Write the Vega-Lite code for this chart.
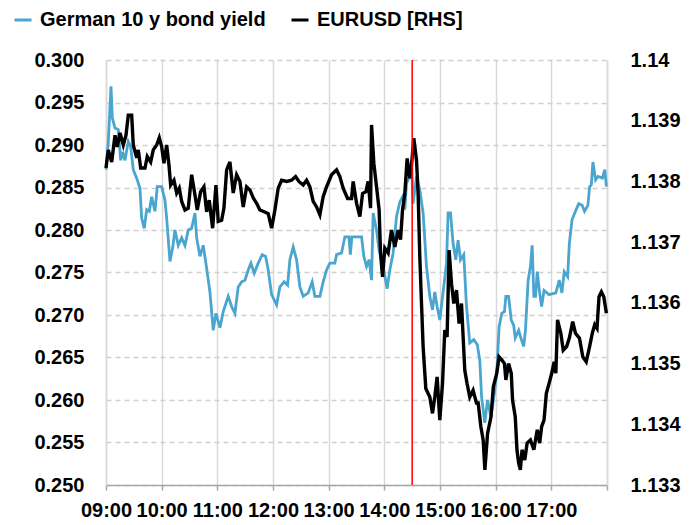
{
  "$schema": "https://vega.github.io/schema/vega-lite/v6.json",
  "width": 501,
  "height": 425,
  "autosize": {"type": "none"},
  "padding": {"left": 106, "top": 60, "right": 87, "bottom": 40},
  "background": "white",
  "config": {
    "view": {"stroke": null},
    "font": "Liberation Sans",
    "axis": {"labelFont": "Liberation Sans", "labelFontSize": 20, "labelFontWeight": "bold", "labelColor": "#000000", "title": null},
    "legend": {"labelFont": "Liberation Sans", "labelFontSize": 20, "labelFontWeight": "bold", "labelColor": "#000000", "labelLimit": 400}
  },
  "datasets": {
    "event": [{"time": "2024-01-01T14:30:00"}],
    "yield": [
      {"time":"2024-01-01T09:00:00","value":0.2871},{"time":"2024-01-01T09:02:29","value":0.2904},{"time":"2024-01-01T09:05:23","value":0.2969},{"time":"2024-01-01T09:06:47","value":0.2932},{"time":"2024-01-01T09:09:42","value":0.2920},{"time":"2024-01-01T09:13:15","value":0.2918},{"time":"2024-01-01T09:15:50","value":0.2882},{"time":"2024-01-01T09:17:59","value":0.2892},{"time":"2024-01-01T09:20:28","value":0.2882},{"time":"2024-01-01T09:24:01","value":0.2904},{"time":"2024-01-01T09:26:36","value":0.2898},{"time":"2024-01-01T09:29:24","value":0.2871},{"time":"2024-01-01T09:33:04","value":0.2861},{"time":"2024-01-01T09:36:37","value":0.2849},{"time":"2024-01-01T09:38:27","value":0.2814},{"time":"2024-01-01T09:41:15","value":0.2802},{"time":"2024-01-01T09:43:51","value":0.2824},{"time":"2024-01-01T09:46:39","value":0.2822},{"time":"2024-01-01T09:49:14","value":0.2839},{"time":"2024-01-01T09:52:47","value":0.2822},{"time":"2024-01-01T09:55:16","value":0.2851},{"time":"2024-01-01T10:00:00","value":0.2851},{"time":"2024-01-01T10:03:33","value":0.2835},{"time":"2024-01-01T10:05:23","value":0.2814},{"time":"2024-01-01T10:08:56","value":0.2763},{"time":"2024-01-01T10:11:51","value":0.2779},{"time":"2024-01-01T10:14:20","value":0.2800},{"time":"2024-01-01T10:17:53","value":0.2782},{"time":"2024-01-01T10:21:33","value":0.2791},{"time":"2024-01-01T10:25:06","value":0.2782},{"time":"2024-01-01T10:28:39","value":0.2800},{"time":"2024-01-01T10:32:19","value":0.2802},{"time":"2024-01-01T10:35:52","value":0.2820},{"time":"2024-01-01T10:37:42","value":0.2791},{"time":"2024-01-01T10:41:15","value":0.2769},{"time":"2024-01-01T10:44:49","value":0.2782},{"time":"2024-01-01T10:48:28","value":0.2755},{"time":"2024-01-01T10:52:02","value":0.2727},{"time":"2024-01-01T10:55:35","value":0.2682},{"time":"2024-01-01T10:58:30","value":0.2702},{"time":"2024-01-01T11:02:48","value":0.2685},{"time":"2024-01-01T11:06:21","value":0.2704},{"time":"2024-01-01T11:11:45","value":0.2722},{"time":"2024-01-01T11:15:24","value":0.2710},{"time":"2024-01-01T11:18:58","value":0.2702},{"time":"2024-01-01T11:22:31","value":0.2733},{"time":"2024-01-01T11:26:11","value":0.2739},{"time":"2024-01-01T11:29:44","value":0.2741},{"time":"2024-01-01T11:33:17","value":0.2753},{"time":"2024-01-01T11:36:12","value":0.2761},{"time":"2024-01-01T11:39:45","value":0.2749},{"time":"2024-01-01T11:44:03","value":0.2761},{"time":"2024-01-01T11:48:22","value":0.2771},{"time":"2024-01-01T11:52:02","value":0.2769},{"time":"2024-01-01T11:54:50","value":0.2753},{"time":"2024-01-01T11:58:30","value":0.2724},{"time":"2024-01-01T12:03:53","value":0.2712},{"time":"2024-01-01T12:07:26","value":0.2733},{"time":"2024-01-01T12:12:04","value":0.2739},{"time":"2024-01-01T12:15:44","value":0.2735},{"time":"2024-01-01T12:18:12","value":0.2765},{"time":"2024-01-01T12:21:46","value":0.2780},{"time":"2024-01-01T12:25:25","value":0.2765},{"time":"2024-01-01T12:28:59","value":0.2733},{"time":"2024-01-01T12:32:32","value":0.2722},{"time":"2024-01-01T12:37:55","value":0.2726},{"time":"2024-01-01T12:42:14","value":0.2739},{"time":"2024-01-01T12:45:08","value":0.2722},{"time":"2024-01-01T12:50:31","value":0.2722},{"time":"2024-01-01T12:54:05","value":0.2739},{"time":"2024-01-01T12:57:44","value":0.2753},{"time":"2024-01-01T13:01:18","value":0.2761},{"time":"2024-01-01T13:06:41","value":0.2761},{"time":"2024-01-01T13:08:30","value":0.2771},{"time":"2024-01-01T13:13:54","value":0.2773},{"time":"2024-01-01T13:17:27","value":0.2792},{"time":"2024-01-01T13:21:46","value":0.2792},{"time":"2024-01-01T13:23:23","value":0.2771},{"time":"2024-01-01T13:24:59","value":0.2792},{"time":"2024-01-01T13:35:26","value":0.2792},{"time":"2024-01-01T13:37:55","value":0.2769},{"time":"2024-01-01T13:40:49","value":0.2757},{"time":"2024-01-01T13:43:38","value":0.2765},{"time":"2024-01-01T13:46:13","value":0.2741},{"time":"2024-01-01T13:47:56","value":0.2820},{"time":"2024-01-01T13:51:36","value":0.2800},{"time":"2024-01-01T13:54:24","value":0.2776},{"time":"2024-01-01T13:58:42","value":0.2757},{"time":"2024-01-01T14:03:01","value":0.2731},{"time":"2024-01-01T14:05:55","value":0.2753},{"time":"2024-01-01T14:09:29","value":0.2773},{"time":"2024-01-01T14:13:08","value":0.2816},{"time":"2024-01-01T14:16:42","value":0.2833},{"time":"2024-01-01T14:19:36","value":0.2839},{"time":"2024-01-01T14:22:05","value":0.2824},{"time":"2024-01-01T14:23:55","value":0.2855},{"time":"2024-01-01T14:27:28","value":0.2863},{"time":"2024-01-01T14:29:18","value":0.2882},{"time":"2024-01-01T14:31:01","value":0.2831},{"time":"2024-01-01T14:34:41","value":0.2863},{"time":"2024-01-01T14:38:14","value":0.2847},{"time":"2024-01-01T14:41:48","value":0.2820},{"time":"2024-01-01T14:45:27","value":0.2757},{"time":"2024-01-01T14:49:01","value":0.2722},{"time":"2024-01-01T14:51:55","value":0.2706},{"time":"2024-01-01T14:54:24","value":0.2727},{"time":"2024-01-01T14:56:53","value":0.2710},{"time":"2024-01-01T14:59:47","value":0.2694},{"time":"2024-01-01T15:03:20","value":0.2727},{"time":"2024-01-01T15:07:00","value":0.2761},{"time":"2024-01-01T15:08:44","value":0.2820},{"time":"2024-01-01T15:11:19","value":0.2820},{"time":"2024-01-01T15:14:07","value":0.2784},{"time":"2024-01-01T15:17:01","value":0.2765},{"time":"2024-01-01T15:19:30","value":0.2788},{"time":"2024-01-01T15:22:05","value":0.2765},{"time":"2024-01-01T15:25:38","value":0.2771},{"time":"2024-01-01T15:28:33","value":0.2710},{"time":"2024-01-01T15:32:06","value":0.2667},{"time":"2024-01-01T15:36:25","value":0.2671},{"time":"2024-01-01T15:40:11","value":0.2665},{"time":"2024-01-01T15:42:52","value":0.2647},{"time":"2024-01-01T15:44:49","value":0.2604},{"time":"2024-01-01T15:48:16","value":0.2573},{"time":"2024-01-01T15:51:16","value":0.2600},{"time":"2024-01-01T15:54:56","value":0.2580},{"time":"2024-01-01T15:58:36","value":0.2608},{"time":"2024-01-01T16:01:11","value":0.2631},{"time":"2024-01-01T16:03:40","value":0.2686},{"time":"2024-01-01T16:06:34","value":0.2702},{"time":"2024-01-01T16:09:29","value":0.2704},{"time":"2024-01-01T16:10:59","value":0.2722},{"time":"2024-01-01T16:13:54","value":0.2722},{"time":"2024-01-01T16:16:48","value":0.2694},{"time":"2024-01-01T16:19:23","value":0.2688},{"time":"2024-01-01T16:21:07","value":0.2673},{"time":"2024-01-01T16:24:47","value":0.2682},{"time":"2024-01-01T16:27:41","value":0.2671},{"time":"2024-01-01T16:30:16","value":0.2663},{"time":"2024-01-01T16:32:06","value":0.2682},{"time":"2024-01-01T16:35:01","value":0.2741},{"time":"2024-01-01T16:37:29","value":0.2757},{"time":"2024-01-01T16:39:19","value":0.2782},{"time":"2024-01-01T16:41:09","value":0.2722},{"time":"2024-01-01T16:42:59","value":0.2722},{"time":"2024-01-01T16:44:49","value":0.2751},{"time":"2024-01-01T16:47:24","value":0.2726},{"time":"2024-01-01T16:49:33","value":0.2710},{"time":"2024-01-01T16:52:08","value":0.2729},{"time":"2024-01-01T16:57:31","value":0.2724},{"time":"2024-01-01T17:04:51","value":0.2726},{"time":"2024-01-01T17:08:31","value":0.2741},{"time":"2024-01-01T17:11:25","value":0.2726},{"time":"2024-01-01T17:13:54","value":0.2751},{"time":"2024-01-01T17:17:34","value":0.2745},{"time":"2024-01-01T17:19:24","value":0.2784},{"time":"2024-01-01T17:22:18","value":0.2812},{"time":"2024-01-01T17:25:58","value":0.2822},{"time":"2024-01-01T17:29:31","value":0.2831},{"time":"2024-01-01T17:33:11","value":0.2829},{"time":"2024-01-01T17:35:46","value":0.2822},{"time":"2024-01-01T17:39:25","value":0.2829},{"time":"2024-01-01T17:41:15","value":0.2851},{"time":"2024-01-01T17:43:05","value":0.2853},{"time":"2024-01-01T17:44:49","value":0.2880},{"time":"2024-01-01T17:47:43","value":0.2859},{"time":"2024-01-01T17:50:18","value":0.2863},{"time":"2024-01-01T17:55:03","value":0.2861},{"time":"2024-01-01T17:57:38","value":0.2871},{"time":"2024-01-01T17:59:21","value":0.2851}
    ],
    "eur": [
      {"time":"2024-01-01T09:00:00","value":1.13822},{"time":"2024-01-01T09:02:29","value":1.13852},{"time":"2024-01-01T09:06:08","value":1.13832},{"time":"2024-01-01T09:09:42","value":1.13876},{"time":"2024-01-01T09:12:10","value":1.13857},{"time":"2024-01-01T09:15:05","value":1.13880},{"time":"2024-01-01T09:18:38","value":1.13860},{"time":"2024-01-01T09:21:33","value":1.13876},{"time":"2024-01-01T09:24:01","value":1.13909},{"time":"2024-01-01T09:27:41","value":1.13909},{"time":"2024-01-01T09:29:24","value":1.13860},{"time":"2024-01-01T09:33:04","value":1.13839},{"time":"2024-01-01T09:34:48","value":1.13852},{"time":"2024-01-01T09:37:23","value":1.13822},{"time":"2024-01-01T09:42:01","value":1.13822},{"time":"2024-01-01T09:44:29","value":1.13841},{"time":"2024-01-01T09:48:09","value":1.13832},{"time":"2024-01-01T09:50:57","value":1.13852},{"time":"2024-01-01T09:54:37","value":1.13860},{"time":"2024-01-01T09:57:25","value":1.13872},{"time":"2024-01-01T10:00:00","value":1.13857},{"time":"2024-01-01T10:02:29","value":1.13830},{"time":"2024-01-01T10:05:23","value":1.13860},{"time":"2024-01-01T10:07:52","value":1.13827},{"time":"2024-01-01T10:09:42","value":1.13794},{"time":"2024-01-01T10:13:15","value":1.13802},{"time":"2024-01-01T10:16:10","value":1.13781},{"time":"2024-01-01T10:18:57","value":1.13789},{"time":"2024-01-01T10:21:33","value":1.13767},{"time":"2024-01-01T10:25:06","value":1.13753},{"time":"2024-01-01T10:28:39","value":1.13756},{"time":"2024-01-01T10:32:19","value":1.13811},{"time":"2024-01-01T10:35:52","value":1.13778},{"time":"2024-01-01T10:38:21","value":1.13753},{"time":"2024-01-01T10:42:01","value":1.13783},{"time":"2024-01-01T10:45:34","value":1.13791},{"time":"2024-01-01T10:48:28","value":1.13750},{"time":"2024-01-01T10:51:17","value":1.13769},{"time":"2024-01-01T10:54:56","value":1.13723},{"time":"2024-01-01T10:58:30","value":1.13794},{"time":"2024-01-01T11:00:58","value":1.13734},{"time":"2024-01-01T11:04:38","value":1.13736},{"time":"2024-01-01T11:07:07","value":1.13756},{"time":"2024-01-01T11:10:01","value":1.13819},{"time":"2024-01-01T11:13:34","value":1.13832},{"time":"2024-01-01T11:17:08","value":1.13781},{"time":"2024-01-01T11:20:47","value":1.13811},{"time":"2024-01-01T11:24:21","value":1.13800},{"time":"2024-01-01T11:27:54","value":1.13758},{"time":"2024-01-01T11:31:34","value":1.13791},{"time":"2024-01-01T11:35:07","value":1.13786},{"time":"2024-01-01T11:38:40","value":1.13773},{"time":"2024-01-01T11:42:20","value":1.13764},{"time":"2024-01-01T11:45:53","value":1.13753},{"time":"2024-01-01T11:50:31","value":1.13750},{"time":"2024-01-01T11:54:50","value":1.13747},{"time":"2024-01-01T11:58:30","value":1.13723},{"time":"2024-01-01T12:02:03","value":1.13753},{"time":"2024-01-01T12:05:36","value":1.13789},{"time":"2024-01-01T12:09:16","value":1.13802},{"time":"2024-01-01T12:14:39","value":1.13800},{"time":"2024-01-01T12:20:02","value":1.13802},{"time":"2024-01-01T12:24:21","value":1.13808},{"time":"2024-01-01T12:27:54","value":1.13800},{"time":"2024-01-01T12:32:32","value":1.13794},{"time":"2024-01-01T12:36:12","value":1.13802},{"time":"2024-01-01T12:39:45","value":1.13791},{"time":"2024-01-01T12:43:18","value":1.13767},{"time":"2024-01-01T12:46:58","value":1.13758},{"time":"2024-01-01T12:50:31","value":1.13745},{"time":"2024-01-01T12:54:05","value":1.13775},{"time":"2024-01-01T12:57:44","value":1.13791},{"time":"2024-01-01T13:03:07","value":1.13811},{"time":"2024-01-01T13:08:30","value":1.13819},{"time":"2024-01-01T13:12:04","value":1.13808},{"time":"2024-01-01T13:15:37","value":1.13789},{"time":"2024-01-01T13:20:22","value":1.13772},{"time":"2024-01-01T13:24:40","value":1.13772},{"time":"2024-01-01T13:26:24","value":1.13800},{"time":"2024-01-01T13:30:03","value":1.13764},{"time":"2024-01-01T13:33:37","value":1.13742},{"time":"2024-01-01T13:36:31","value":1.13780},{"time":"2024-01-01T13:40:04","value":1.13783},{"time":"2024-01-01T13:42:33","value":1.13800},{"time":"2024-01-01T13:45:08","value":1.13756},{"time":"2024-01-01T13:46:13","value":1.13893},{"time":"2024-01-01T13:48:41","value":1.13830},{"time":"2024-01-01T13:51:36","value":1.13791},{"time":"2024-01-01T13:54:24","value":1.13753},{"time":"2024-01-01T13:55:54","value":1.13682},{"time":"2024-01-01T13:58:04","value":1.13643},{"time":"2024-01-01T14:00:32","value":1.13690},{"time":"2024-01-01T14:04:06","value":1.13682},{"time":"2024-01-01T14:07:45","value":1.13720},{"time":"2024-01-01T14:11:19","value":1.13692},{"time":"2024-01-01T14:14:52","value":1.13720},{"time":"2024-01-01T14:17:27","value":1.13704},{"time":"2024-01-01T14:19:36","value":1.13753},{"time":"2024-01-01T14:22:05","value":1.13780},{"time":"2024-01-01T14:24:34","value":1.13838},{"time":"2024-01-01T14:27:28","value":1.13805},{"time":"2024-01-01T14:29:18","value":1.13827},{"time":"2024-01-01T14:31:47","value":1.13871},{"time":"2024-01-01T14:34:41","value":1.13835},{"time":"2024-01-01T14:36:25","value":1.13780},{"time":"2024-01-01T14:38:14","value":1.13676},{"time":"2024-01-01T14:40:04","value":1.13599},{"time":"2024-01-01T14:41:48","value":1.13528},{"time":"2024-01-01T14:44:42","value":1.13459},{"time":"2024-01-01T14:49:01","value":1.13445},{"time":"2024-01-01T14:51:55","value":1.13418},{"time":"2024-01-01T14:54:24","value":1.13445},{"time":"2024-01-01T14:56:53","value":1.13478},{"time":"2024-01-01T14:59:47","value":1.13407},{"time":"2024-01-01T15:02:42","value":1.13467},{"time":"2024-01-01T15:05:10","value":1.13555},{"time":"2024-01-01T15:07:39","value":1.13544},{"time":"2024-01-01T15:09:48","value":1.13687},{"time":"2024-01-01T15:12:23","value":1.13632},{"time":"2024-01-01T15:14:52","value":1.13599},{"time":"2024-01-01T15:17:47","value":1.13621},{"time":"2024-01-01T15:20:35","value":1.13566},{"time":"2024-01-01T15:23:10","value":1.13599},{"time":"2024-01-01T15:26:43","value":1.13489},{"time":"2024-01-01T15:29:11","value":1.13467},{"time":"2024-01-01T15:32:06","value":1.13445},{"time":"2024-01-01T15:35:39","value":1.13456},{"time":"2024-01-01T15:39:19","value":1.13435},{"time":"2024-01-01T15:41:09","value":1.13435},{"time":"2024-01-01T15:44:03","value":1.13396},{"time":"2024-01-01T15:46:32","value":1.13374},{"time":"2024-01-01T15:48:22","value":1.13325},{"time":"2024-01-01T15:51:16","value":1.13385},{"time":"2024-01-01T15:54:56","value":1.13412},{"time":"2024-01-01T15:57:31","value":1.13462},{"time":"2024-01-01T16:01:11","value":1.13484},{"time":"2024-01-01T16:03:40","value":1.13511},{"time":"2024-01-01T16:06:34","value":1.13506},{"time":"2024-01-01T16:09:29","value":1.13500},{"time":"2024-01-01T16:10:59","value":1.13473},{"time":"2024-01-01T16:13:54","value":1.13500},{"time":"2024-01-01T16:16:48","value":1.13484},{"time":"2024-01-01T16:18:12","value":1.13440},{"time":"2024-01-01T16:21:07","value":1.13412},{"time":"2024-01-01T16:22:57","value":1.13358},{"time":"2024-01-01T16:24:47","value":1.13336},{"time":"2024-01-01T16:26:36","value":1.13325},{"time":"2024-01-01T16:28:26","value":1.13358},{"time":"2024-01-01T16:31:21","value":1.13341},{"time":"2024-01-01T16:33:56","value":1.13369},{"time":"2024-01-01T16:37:29","value":1.13374},{"time":"2024-01-01T16:41:09","value":1.13358},{"time":"2024-01-01T16:44:49","value":1.13391},{"time":"2024-01-01T16:47:24","value":1.13369},{"time":"2024-01-01T16:49:33","value":1.13396},{"time":"2024-01-01T16:52:08","value":1.13407},{"time":"2024-01-01T16:54:37","value":1.13451},{"time":"2024-01-01T16:57:31","value":1.13467},{"time":"2024-01-01T17:00:26","value":1.13484},{"time":"2024-01-01T17:03:01","value":1.13503},{"time":"2024-01-01T17:04:51","value":1.13484},{"time":"2024-01-01T17:06:41","value":1.13572},{"time":"2024-01-01T17:10:14","value":1.13550},{"time":"2024-01-01T17:12:49","value":1.13522},{"time":"2024-01-01T17:16:29","value":1.13528},{"time":"2024-01-01T17:19:24","value":1.13542},{"time":"2024-01-01T17:23:03","value":1.13569},{"time":"2024-01-01T17:25:58","value":1.13550},{"time":"2024-01-01T17:30:16","value":1.13542},{"time":"2024-01-01T17:33:56","value":1.13511},{"time":"2024-01-01T17:37:36","value":1.13503},{"time":"2024-01-01T17:41:15","value":1.13528},{"time":"2024-01-01T17:44:10","value":1.13550},{"time":"2024-01-01T17:46:45","value":1.13564},{"time":"2024-01-01T17:49:14","value":1.13558},{"time":"2024-01-01T17:51:23","value":1.13610},{"time":"2024-01-01T17:53:58","value":1.13618},{"time":"2024-01-01T17:56:33","value":1.13610},{"time":"2024-01-01T17:59:21","value":1.13583}
    ]
  },
  "layer": [
    {
      "data": {"name": "yield"},
      "mark": {"type": "line", "strokeWidth": 2.8, "interpolate": "linear"},
      "encoding": {
        "x": {
          "field": "time", "type": "temporal",
          "scale": {"domain": [{"year": 2024, "month": 1, "date": 1, "hours": 9}, {"year": 2024, "month": 1, "date": 1, "hours": 18}]},
          "axis": {
            "values": [
              {"year": 2024, "month": 1, "date": 1, "hours": 9},{"year": 2024, "month": 1, "date": 1, "hours": 10},{"year": 2024, "month": 1, "date": 1, "hours": 11},{"year": 2024, "month": 1, "date": 1, "hours": 12},{"year": 2024, "month": 1, "date": 1, "hours": 13},{"year": 2024, "month": 1, "date": 1, "hours": 14},{"year": 2024, "month": 1, "date": 1, "hours": 15},{"year": 2024, "month": 1, "date": 1, "hours": 16},{"year": 2024, "month": 1, "date": 1, "hours": 17},{"year": 2024, "month": 1, "date": 1, "hours": 18}
            ],
            "format": "%H:%M",
            "labelExpr": "hours(datum.value) == 18 ? '' : datum.label",
            "labelFlush": false,
            "labelOverlap": false,
            "labelPadding": 10,
            "grid": true, "gridColor": "#d9d9d9", "gridWidth": 1.5,
            "domainColor": "#a6a6a6", "domainWidth": 1.5,
            "ticks": true, "tickColor": "#a6a6a6", "tickSize": 5, "tickWidth": 1.5
          }
        },
        "y": {
          "field": "value", "type": "quantitative",
          "scale": {"domain": [0.25, 0.30], "zero": false, "nice": false},
          "axis": {
            "orient": "left",
            "values": [0.25, 0.255, 0.26, 0.265, 0.27, 0.275, 0.28, 0.285, 0.29, 0.295, 0.3],
            "format": ".3f",
            "ticks": false, "labelPadding": 22,
            "domain": true, "domainColor": "#d9d9d9", "domainWidth": 1.5,
            "grid": true, "gridColor": "#d0d0d0", "gridWidth": 1.5, "gridDash": [5, 4]
          }
        },
        "color": {
          "datum": "German 10 y bond yield",
          "scale": {"domain": ["German 10 y bond yield", "EURUSD [RHS]"], "range": ["#4aa5cf", "#000000"]},
          "legend": {
            "title": null, "orient": "none", "legendX": -93, "legendY": -50,
            "direction": "horizontal", "symbolType": "stroke", "symbolSize": 289,
            "symbolStrokeWidth": 3, "labelOffset": 7, "columnPadding": 19, "padding": 0,
            "labelFontSize": 20, "labelFontWeight": "bold", "labelLimit": 400
          }
        }
      }
    },
    {
      "data": {"name": "eur"},
      "mark": {"type": "line", "strokeWidth": 3.4, "interpolate": "linear"},
      "encoding": {
        "x": {"field": "time", "type": "temporal"},
        "y": {
          "field": "value", "type": "quantitative",
          "scale": {"domain": [1.133, 1.14], "zero": false, "nice": false},
          "axis": {
            "orient": "right",
            "values": [1.133, 1.134, 1.135, 1.136, 1.137, 1.138, 1.139, 1.14],
            "format": ".3~f",
            "ticks": false, "labelPadding": 23, "grid": false,
            "domain": true, "domainColor": "#d9d9d9", "domainWidth": 1.5
          }
        },
        "color": {"datum": "EURUSD [RHS]"}
      }
    },
    {
      "data": {"name": "event"},
      "mark": {"type": "rule", "color": "#ff0000", "strokeWidth": 1.5},
      "encoding": {"x": {"field": "time", "type": "temporal"}}
    }
  ],
  "resolve": {"scale": {"y": "independent"}}
}
